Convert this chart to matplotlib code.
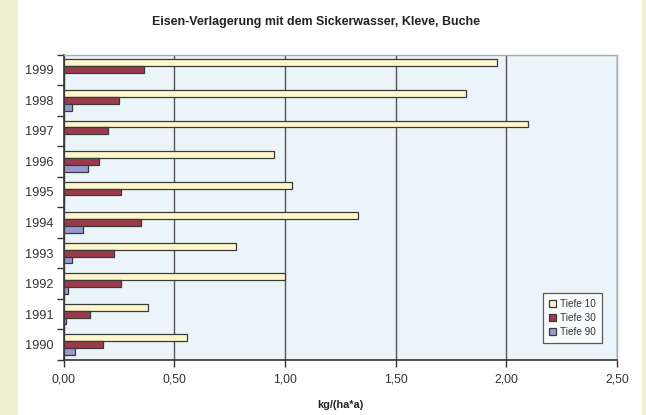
import matplotlib
matplotlib.use("Agg")
import matplotlib.pyplot as plt
import numpy as np
from matplotlib.patches import Rectangle

plt.rcParams['font.family'] = ['Liberation Sans', 'DejaVu Sans']

years = ["1990", "1991", "1992", "1993", "1994", "1995", "1996", "1997", "1998", "1999"]
tiefe10 = [0.56, 0.38, 1.00, 0.78, 1.33, 1.03, 0.95, 2.10, 1.82, 1.96]
tiefe30 = [0.18, 0.12, 0.26, 0.23, 0.35, 0.26, 0.16, 0.20, 0.25, 0.365]
tiefe90 = [0.05, 0.013, 0.022, 0.04, 0.09, 0.0, 0.11, 0.0, 0.038, 0.0]
series_names = ["Tiefe 10", "Tiefe 30", "Tiefe 90"]
xticks = [0.0, 0.5, 1.0, 1.5, 2.0, 2.5]
xticklabels = ["0,00", "0,50", "1,00", "1,50", "2,00", "2,50"]

W, H = 646, 415
fig = plt.figure(figsize=(W / 100, H / 100), dpi=100)
fig.patch.set_facecolor('white')
# side strips
fig.patches.append(Rectangle((0, 0), 18 / W, 1, transform=fig.transFigure,
                             facecolor='#eef2d3', edgecolor='none', zorder=0))
fig.patches.append(Rectangle((642 / W, 0), 4 / W, 1, transform=fig.transFigure,
                             facecolor='#eef2d3', edgecolor='none', zorder=0))

left, right, top, bottom = 63.5, 617, 54.5, 360
ax = fig.add_axes([left / W, 1 - bottom / H, (right - left) / W, (bottom - top) / H])
ax.set_facecolor('#ebf4f9')

y = np.arange(len(years))
h = 0.225
colors = ['#fff7cc', '#9c3a4c', '#9a9ad0']
edge = '#3a3a3a'
ax.barh(y + h, tiefe10, height=h, color=colors[0], edgecolor=edge, linewidth=0.9,
        label=series_names[0], zorder=3)
ax.barh(y, tiefe30, height=h, color=colors[1], edgecolor=edge, linewidth=0.9,
        label=series_names[1], zorder=3)
ax.barh(y - h, tiefe90, height=h, color=colors[2], edgecolor=edge, linewidth=0.9,
        label=series_names[2], zorder=3)

ax.set_xlim(0, 2.5)
ax.set_ylim(-0.5, len(years) - 0.5)
ax.set_xticks(xticks)
ax.set_xticklabels(xticklabels, fontsize=8.7, color='#333333')
ax.set_yticks(y)
ax.set_yticklabels(years, fontsize=9.2, color='#333333')
ax.set_yticks(np.arange(-0.5, len(years), 1.0), minor=True)
ax.tick_params(axis='y', which='major', length=0, pad=7)
ax.tick_params(axis='y', which='minor', length=5, width=1.0, color='#333333', direction='out')
ax.tick_params(axis='x', which='major', length=5, width=1.0, color='#333333', direction='out', pad=5)

ax.grid(axis='x', color='#555555', linewidth=1.0, zorder=1)
ax.set_axisbelow(True)
for s in ['top', 'right']:
    ax.spines[s].set_color('#a8adb5')
    ax.spines[s].set_linewidth(1.0)
for s in ['left', 'bottom']:
    ax.spines[s].set_color('#333333')
    ax.spines[s].set_linewidth(1.2)

ax.set_xlabel("kg/(ha*a)", fontsize=7.8, fontweight='bold', color='#222222', labelpad=10)

fig.text(316 / W, 1 - 22 / H, "Eisen-Verlagerung mit dem Sickerwasser, Kleve, Buche",
         ha='center', va='center', fontsize=8.9, fontweight='bold', color='#222222')

leg = ax.legend(loc='lower right', bbox_to_anchor=(602 / W, 1 - 343 / H), bbox_transform=fig.transFigure,
                fontsize=7.2, frameon=True, fancybox=False, handlelength=0.7, handleheight=0.7,
                handletextpad=0.4, borderpad=0.6, labelspacing=0.4, borderaxespad=0)
leg.get_frame().set_edgecolor('#333333')
leg.get_frame().set_linewidth(0.9)
leg.get_frame().set_facecolor('white')
for t in leg.get_texts():
    t.set_color('#333333')

fig.savefig("out.png", dpi=100, facecolor=fig.get_facecolor())
